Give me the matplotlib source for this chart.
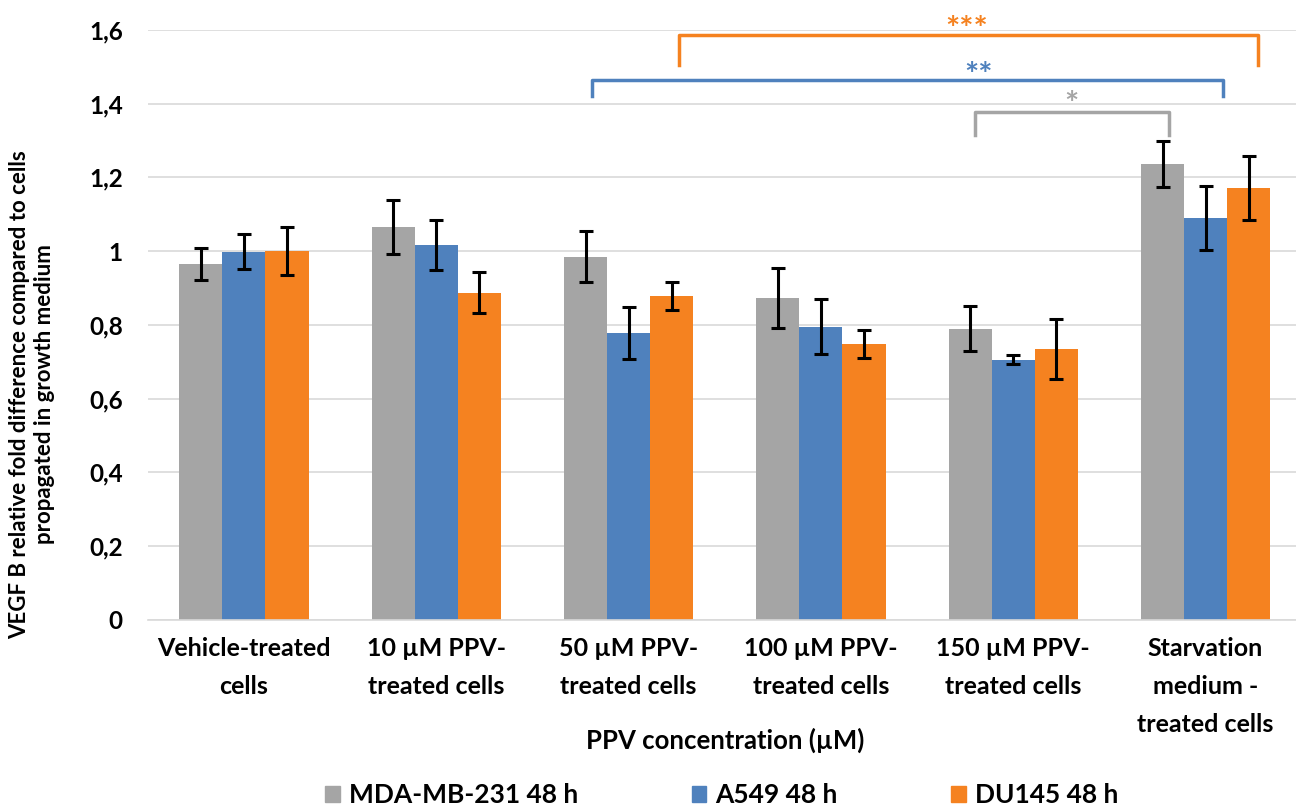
import numpy as np
import matplotlib.pyplot as plt
from matplotlib.patches import Patch

plt.rcParams['font.family'] = ['Lato', 'DejaVu Sans']
plt.rcParams['font.weight'] = 'bold'

categories = ["Vehicle-treated\ncells", "10 µM PPV-\ntreated cells", "50 µM PPV-\ntreated cells",
              "100 µM PPV-\ntreated cells", "150 µM PPV-\ntreated cells",
              "Starvation\nmedium -\ntreated cells"]
series_names = ["MDA-MB-231 48 h", "A549 48 h", "DU145 48 h"]
mda = [0.965, 1.066, 0.985, 0.873, 0.789, 1.237]
mda_err = [0.044, 0.073, 0.07, 0.081, 0.061, 0.062]
a549 = [0.998, 1.017, 0.778, 0.795, 0.705, 1.09]
a549_err = [0.047, 0.068, 0.07, 0.075, 0.012, 0.087]
du145 = [1.0, 0.887, 0.879, 0.748, 0.735, 1.17]
du145_err = [0.066, 0.055, 0.038, 0.038, 0.082, 0.087]
colors = ['#A5A5A5', '#4F81BD', '#F58220']
yticks = [0, 0.2, 0.4, 0.6, 0.8, 1.0, 1.2, 1.4, 1.6]
ytick_labels = ["0", "0,2", "0,4", "0,6", "0,8", "1", "1,2", "1,4", "1,6"]

# significance brackets: x start, x end, y top, y leg bottom, label, label x, label y, colour
brackets = [
    (2.26, 5.27, 1.586, 1.505, "***", 3.76, 1.598, colors[2]),
    (1.81, 5.09, 1.464, 1.42, "**", 3.82, 1.473, colors[1]),
    (3.80, 4.81, 1.378, 1.315, "*", 4.30, 1.395, colors[0]),
]

fig = plt.figure(figsize=(12.96, 8.05), dpi=100)
ax = fig.add_axes([0.114, 0.23, 0.886, 0.733])

x = np.arange(len(categories))
w = 0.224
for i, (vals, errs) in enumerate([(mda, mda_err), (a549, a549_err), (du145, du145_err)]):
    ax.bar(x + (i - 1) * w, vals, w, color=colors[i], label=series_names[i], zorder=2)
    ax.errorbar(x + (i - 1) * w, vals, yerr=errs, fmt='none', ecolor='black',
                elinewidth=2.2, capsize=5, capthick=2.2, zorder=3)

for x0, x1, ytop, ybot, lab, lx, ly, c in brackets:
    ax.plot([x0, x0, x1, x1], [ybot, ytop, ytop, ybot], color=c, lw=2.5,
            clip_on=False, zorder=4)
    ax.text(lx, ly, lab, color=c, ha='center', va='center',
            fontsize=24, clip_on=False)

ax.set_xlim(-0.5, 5.47)
ax.set_ylim(0, 1.6)
ax.set_yticks(yticks)
ax.set_yticklabels(ytick_labels, fontsize=17.5, fontweight='bold')
ax.set_xticks(x)
ax.set_xticklabels(categories, fontsize=18, fontweight='bold', linespacing=1.8)
ax.tick_params(axis='both', length=0)
ax.tick_params(axis='x', pad=12)
ax.tick_params(axis='y', pad=18)
ax.grid(axis='y', color='#D9D9D9', lw=1.2, zorder=0)
for s in ['top', 'right', 'left']:
    ax.spines[s].set_visible(False)
ax.spines['bottom'].set_color('#D9D9D9')
ax.spines['bottom'].set_linewidth(1.2)

ax.set_xlabel("PPV concentration (µM)", fontsize=18.5, fontweight='bold')
ax.xaxis.set_label_coords(0.503, -0.182)
fig.text(32 / 1296, 0.51, "VEGF B relative fold difference compared to cells\npropagated in growth medium",
         rotation=90, ha='center', va='center', multialignment='center',
         fontsize=16, fontweight='bold')

handles = [Patch(color=c) for c in colors]
fig.legend(handles, series_names, loc='center', bbox_to_anchor=(722 / 1296, 10 / 805), ncol=3,
           frameon=False, fontsize=19, handlelength=0.55, handleheight=0.55,
           handletextpad=0.35, columnspacing=4.3, borderpad=0)

fig.savefig("out.png", dpi=100)
